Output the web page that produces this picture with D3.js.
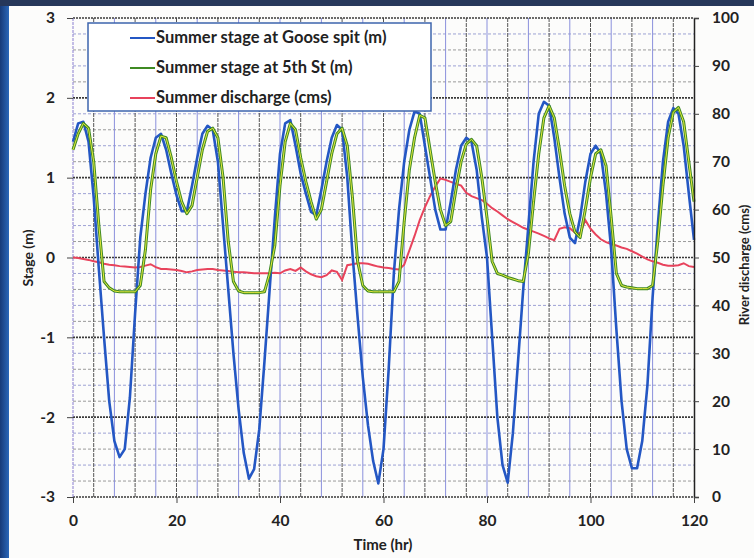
<!DOCTYPE html>
<html>
<head>
<meta charset="utf-8">
<script src="https://cdn.jsdelivr.net/npm/d3@7"></script>
<style>
  body { margin: 0; background: #fff; }
  text { font-family: Lato, "Open Sans", sans-serif; }
</style>
</head>
<body>
<div id="chart"></div>
<script>
// hourly readings, 0..120 hr
const hours = d3.range(0, 121);

const gooseSpit = [
  1.45, 1.68, 1.70, 1.45, 0.75, -0.15, -1.0, -1.8, -2.3, -2.5,
  -2.4, -1.75, -0.7, 0.25, 0.8, 1.25, 1.5, 1.55, 1.35, 1.05,
  0.78, 0.58, 0.58, 0.9, 1.25, 1.55, 1.65, 1.6, 1.2, 0.4,
  -0.4, -1.2, -1.9, -2.45, -2.77, -2.65, -2.15, -1.3, -0.4, 0.5,
  1.3, 1.68, 1.72, 1.4, 1.05, 0.8, 0.57, 0.53, 0.85, 1.2,
  1.5, 1.66, 1.6, 1.0, 0.05, -0.75, -1.5, -2.1, -2.55, -2.83,
  -2.4, -1.4, -0.2, 0.6, 1.2, 1.6, 1.83, 1.8, 1.4, 1.0,
  0.6, 0.35, 0.35, 0.7, 1.1, 1.4, 1.5, 1.45, 1.1, 0.5,
  0.0, -1.0, -2.0, -2.6, -2.82, -2.2, -1.3, -0.4, 0.4, 1.2,
  1.8, 1.95, 1.9, 1.5, 1.0, 0.55, 0.25, 0.18, 0.5, 0.95,
  1.3, 1.4, 1.3, 0.8, 0.1, -0.9, -1.8, -2.4, -2.64, -2.64,
  -2.3, -1.6, -0.5, 0.4, 1.2, 1.7, 1.87, 1.8, 1.4, 0.8,
  0.22
];

const fifthSt = [
  1.35, 1.55, 1.68, 1.62, 1.2, 0.4, -0.3, -0.38, -0.42, -0.43,
  -0.43, -0.43, -0.43, -0.35, 0.1, 0.85, 1.3, 1.52, 1.5, 1.25,
  0.95, 0.7, 0.55, 0.65, 1.0, 1.35, 1.58, 1.62, 1.5, 1.0,
  0.2, -0.3, -0.42, -0.44, -0.44, -0.44, -0.44, -0.43, -0.2, 0.15,
  0.9, 1.45, 1.68, 1.6, 1.25, 0.95, 0.7, 0.48, 0.6, 0.95,
  1.3, 1.55, 1.62, 1.4, 0.75, -0.05, -0.35, -0.42, -0.43, -0.43,
  -0.43, -0.43, -0.43, -0.3, 0.45, 1.1, 1.5, 1.78, 1.75, 1.35,
  0.95, 0.6, 0.4, 0.45, 0.85, 1.2, 1.42, 1.48, 1.4, 1.0,
  0.5, -0.05, -0.2, -0.22, -0.25, -0.27, -0.29, -0.3, 0.05, 0.7,
  1.3, 1.75, 1.9, 1.75, 1.35, 0.9, 0.55, 0.32, 0.25, 0.6,
  1.0, 1.3, 1.35, 1.15, 0.5, -0.2, -0.35, -0.37, -0.38, -0.39,
  -0.39, -0.39, -0.35, 0.2, 0.9, 1.5, 1.82, 1.88, 1.7, 1.2,
  0.7
];

const discharge = [
  50.0, 49.9, 49.7, 49.5, 49.2, 49.0, 48.7, 48.5, 48.4, 48.2,
  48.1, 48.0, 47.9, 48.0, 48.3, 48.6, 48.0, 47.6, 47.6, 47.5,
  47.4, 47.2, 46.9, 47.1, 47.4, 47.5, 47.6, 47.6, 47.4, 47.3,
  47.2, 47.0, 46.9, 46.9, 46.8, 46.7, 46.7, 46.7, 46.7, 46.8,
  46.7, 47.3, 47.6, 47.2, 47.9, 47.1, 46.5, 46.1, 45.9, 46.3,
  47.3, 47.0, 45.3, 48.4, 48.6, 48.8, 48.8, 48.7, 48.4, 48.1,
  47.9, 47.8, 47.6, 47.5, 48.5, 51.5, 54.5, 57.8, 60.5, 62.8,
  64.8, 66.5, 66.2, 65.8, 65.4, 65.0, 63.5, 62.8, 62.4, 62.0,
  61.2, 60.3, 59.6, 58.8, 58.0, 57.4, 56.8, 56.2, 55.8, 55.4,
  55.0, 54.5, 54.0, 53.6, 56.0, 56.3, 56.1, 55.2, 55.0, 57.8,
  56.0, 54.8, 53.8, 53.2, 52.8, 52.5, 52.1, 51.8, 51.3, 50.8,
  50.2, 49.6, 49.2, 48.9, 48.5, 48.3, 48.3, 48.4, 48.8, 48.2,
  48.0
];

const timeTicks = [0, 20, 40, 60, 80, 100, 120];
const stageTicks = [-3, -2, -1, 0, 1, 2, 3];
const dischargeTicks = [0, 10, 20, 30, 40, 50, 60, 70, 80, 90, 100];
const legendLabels = ["Summer stage at Goose spit (m)", "Summer stage at 5th St (m)", "Summer discharge (cms)"];

const W = 754, H = 558;
const margin = { top: 18, right: 60, bottom: 61, left: 73 };
const width = W - margin.left - margin.right;   // 621
const height = H - margin.top - margin.bottom;  // 479

const root = d3.select("#chart").append("svg")
  .attr("width", W)
  .attr("height", H);

// scanned page frame
const defs = root.append("defs");
const grad = defs.append("linearGradient").attr("id", "edge").attr("x1", 0).attr("x2", 1);
grad.append("stop").attr("offset", 0).attr("stop-color", "#173a78");
grad.append("stop").attr("offset", 1).attr("stop-color", "#2d6cc0");
root.append("rect").attr("width", W).attr("height", H).attr("fill", "#26375a");
root.append("rect").attr("x", 0).attr("y", 6).attr("width", 10).attr("height", H - 6).attr("fill", "url(#edge)");
root.append("rect").attr("x", 9).attr("y", 6).attr("width", W - 9).attr("height", H - 6).attr("fill", "#fcfcfb");

const svg = root.append("g")
  .attr("transform", `translate(${margin.left},${margin.top})`);

const x = d3.scaleLinear().domain([0, 120]).range([0, width]);
const yL = d3.scaleLinear().domain([-3, 3]).range([height, 0]);
const yR = d3.scaleLinear().domain([0, 100]).range([height, 0]);

// minor horizontal grid every 0.2 m
const minorY = d3.range(-3, 3.001, 0.2).map(v => Math.round(v * 10) / 10);
svg.append("g").selectAll("line")
  .data(minorY.filter(v => !Number.isInteger(v)))
  .enter().append("line")
  .attr("x1", 0).attr("x2", width)
  .attr("y1", d => yL(d)).attr("y2", d => yL(d))
  .attr("stroke", (d, i) => i % 2 ? "#9da2d4" : "#9a9a9a")
  .attr("stroke-width", 1)
  .attr("stroke-dasharray", "3,2");

// vertical grid every 4 hr
const vx = d3.range(4, 120, 4);
svg.append("g").selectAll("line")
  .data(vx)
  .enter().append("line")
  .attr("x1", d => x(d)).attr("x2", d => x(d))
  .attr("y1", 0).attr("y2", height)
  .attr("stroke", (d, i) => i % 2 ? "#8a90dc" : "#555")
  .attr("stroke-width", 1)
  .attr("stroke-dasharray", (d, i) => i % 2 ? null : "4,1");

// major horizontal grid at each metre
svg.append("g").selectAll("line")
  .data(stageTicks)
  .enter().append("line")
  .attr("x1", 0).attr("x2", width)
  .attr("y1", d => yL(d)).attr("y2", d => yL(d))
  .attr("stroke", "#3a3a3a")
  .attr("stroke-width", 1.6)
  .attr("stroke-dasharray", "2,1");

// left edge
svg.append("line")
  .attr("x1", 0).attr("x2", 0).attr("y1", 0).attr("y2", height)
  .attr("stroke", "#8a7fd0").attr("stroke-width", 1).attr("stroke-dasharray", "3,1");

// series
const lineL = d3.line().x((d, i) => x(hours[i])).y(d => yL(d));
const lineR = d3.line().x((d, i) => x(hours[i])).y(d => yR(d));

svg.append("path").datum(discharge)
  .attr("d", lineR).attr("fill", "none")
  .attr("stroke", "#e8435c").attr("stroke-width", 2);

svg.append("path").datum(gooseSpit)
  .attr("d", lineL).attr("fill", "none")
  .attr("stroke", "#2457c4").attr("stroke-width", 2.6)
  .attr("stroke-linejoin", "round");

svg.append("path").datum(fifthSt)
  .attr("d", lineL).attr("fill", "none")
  .attr("stroke", "#3f8a23").attr("stroke-width", 3)
  .attr("stroke-linejoin", "round");

svg.append("path").datum(fifthSt)
  .attr("d", lineL).attr("fill", "none")
  .attr("stroke", "#e6ea3c").attr("stroke-width", 1)
  .attr("stroke-linejoin", "round");

// axes
const axisFont = g => g.selectAll("text")
  .style("font-size", "15.5px").style("font-weight", "bold").attr("fill", "#222");

svg.append("g")
  .call(d3.axisLeft(yL).tickValues(stageTicks).tickSize(6).tickPadding(12).tickFormat(d => String(d)))
  .call(g => g.select(".domain").remove())
  .call(g => g.selectAll("line").attr("stroke", "#444"))
  .call(axisFont);

svg.append("g")
  .attr("transform", `translate(${width},0)`)
  .call(d3.axisRight(yR).tickValues(dischargeTicks).tickSize(5).tickPadding(13))
  .call(g => g.select(".domain").attr("stroke", "#222").attr("stroke-width", 1.5))
  .call(g => g.selectAll("line").attr("stroke", "#444"))
  .call(axisFont);

svg.append("g")
  .attr("transform", `translate(0,${height})`)
  .call(d3.axisBottom(x).tickValues(timeTicks).tickSize(6).tickPadding(12))
  .call(g => g.select(".domain").remove())
  .call(g => g.selectAll("line").attr("stroke", "#444"))
  .call(axisFont);

// axis titles
root.append("text")
  .attr("x", 383).attr("y", 550)
  .attr("text-anchor", "middle")
  .style("font-size", "15px").style("font-weight", "bold").attr("fill", "#222")
  .text("Time (hr)");

root.append("text")
  .attr("transform", "translate(33,258) rotate(-90)")
  .attr("text-anchor", "middle")
  .style("font-size", "14px").style("font-weight", "bold").attr("fill", "#222")
  .text("Stage (m)");

root.append("text")
  .attr("transform", "translate(749,265) rotate(-90)")
  .attr("text-anchor", "middle")
  .style("font-size", "13px").style("font-weight", "bold").attr("fill", "#222")
  .text("River discharge (cms)");

// legend
const legend = root.append("g");
legend.append("rect")
  .attr("x", 88).attr("y", 23).attr("width", 343).attr("height", 88)
  .attr("fill", "#fff").attr("stroke", "#3d64ad").attr("stroke-width", 1.5);

const legendColors = ["#2457c4", "#3f8a23", "#e8435c"];
legendLabels.forEach((label, i) => {
  const yy = 38 + i * 30;
  legend.append("line")
    .attr("x1", 130).attr("x2", 155).attr("y1", yy).attr("y2", yy)
    .attr("stroke", legendColors[i]).attr("stroke-width", 2);
  legend.append("text")
    .attr("x", 156).attr("y", yy + 5)
    .style("font-size", "16.5px").style("font-weight", "bold").attr("fill", "#222")
    .text(label);
});
</script>
</body>
</html>
